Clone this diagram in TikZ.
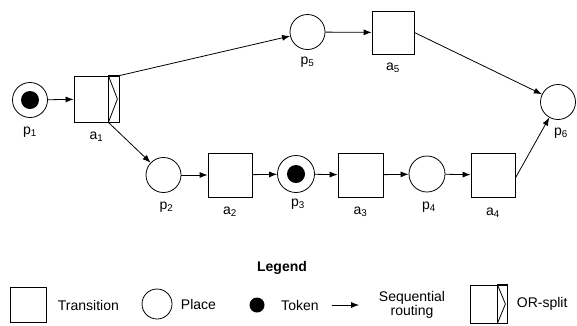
\documentclass[tikz,border=0pt]{standalone}
\usepackage{fontspec}
\setmainfont{Liberation Sans}
\usepackage{tikz}
\usetikzlibrary{arrows.meta,positioning,calc}

\begin{document}
\begin{tikzpicture}[
    x=1pt, y=-1pt,
    font=\fontsize{14}{16}\selectfont,
    trans/.style={rectangle, draw, line width=0.8pt, minimum width=44pt, minimum height=44pt, inner sep=0pt},
    place/.style={circle, draw, line width=0.8pt, minimum size=35pt, inner sep=0pt},
    marked/.style={place, path picture={\fill (path picture bounding box.center) circle (9pt);}},
    token/.style={circle, fill=black, minimum size=15pt, inner sep=0pt},
    lbl/.style={inner sep=0pt},
    arrow/.style={-{Latex[length=8pt,width=6pt]}, line width=0.8pt}
]
    \useasboundingbox (0,0) rectangle (577,325);

    % net
    \node[marked] (p1) at (30,100) {};
    \node[trans, minimum width=45pt, minimum height=46pt] (a1) at (96.5,99) {};
    \node[place] (p5) at (307.5,32) {};
    \node[trans, minimum width=42pt, minimum height=43pt] (a5) at (393,32.5) {};
    \node[place] (p6) at (558,102) {};
    \node[place] (p2) at (163.5,175) {};
    \node[trans] (a2) at (230,175) {};
    \node[marked, minimum size=37pt] (p3) at (296,174) {};
    \node[trans, minimum width=45pt] (a3) at (360.5,175) {};
    \node[place, minimum size=36pt] (p4) at (427,174) {};
    \node[trans] (a4) at (493,175) {};

    % OR-split bar of a1
    \coordinate (a1 bar) at ([xshift=-11pt]a1.south east);
    \draw[line width=1.6pt] ([xshift=-11pt]a1.north east) rectangle (a1.south east);
    \draw[line width=0.8pt] ([xshift=-11pt]a1.north east) -- ([xshift=-2pt]a1.east) -- (a1 bar);

    % labels
    \node[lbl, below=9pt of p1] (p1 lab) {p\textsubscript{1}};
    \node[lbl, below=9pt of a1] (a1 lab) {a\textsubscript{1}};
    \node[lbl, below=7pt of p5] (p5 lab) {p\textsubscript{5}};
    \node[lbl, below=8pt of a5] (a5 lab) {a\textsubscript{5}};
    \node[lbl, below=8pt of p6, xshift=3pt] (p6 lab) {p\textsubscript{6}};
    \node[lbl, below=9pt of p2, xshift=3pt] (p2 lab) {p\textsubscript{2}};
    \node[lbl, below=9pt of a2] (a2 lab) {a\textsubscript{2}};
    \node[lbl, below=6pt of p3, xshift=2pt] (p3 lab) {p\textsubscript{3}};
    \node[lbl, below=9pt of a3] (a3 lab) {a\textsubscript{3}};
    \node[lbl, below=9pt of p4, xshift=2pt] (p4 lab) {p\textsubscript{4}};
    \node[lbl, below=10pt of a4] (a4 lab) {a\textsubscript{4}};

    % arcs
    \draw[arrow] (p1) -- (a1);
    \draw[arrow] (a1.north east) -- (p5);
    \draw[arrow] (a1 bar) -- (p2);
    \draw[arrow] (p5) -- (a5);
    \draw[arrow] (a5.east) -- (p6);
    \draw[arrow] (p2) -- (a2);
    \draw[arrow] (a2) -- (p3);
    \draw[arrow] (p3) -- (a3);
    \draw[arrow] (a3) -- (p4);
    \draw[arrow] (p4) -- (a4);
    \draw[arrow] ([yshift=-3pt]a4.east) -- (p6);

    % legend
    \node[font=\fontsize{14}{16}\selectfont\bfseries] (legend) at (282,268) {Legend};
    \node[trans, minimum width=36pt, minimum height=35pt] (lg trans) at (28,305) {};
    \node[right=8pt of lg trans] (lg trans txt) {Transition};
    \node[place, minimum size=30pt] (lg place) at (157,304) {};
    \node[right=5pt of lg place] (lg place txt) {Place};
    \node[token] (lg token) at (257,305) {};
    \node[right=13pt of lg token] (lg token txt) {Token};
    \coordinate[right=10pt of lg token txt] (lg arr a);
    \coordinate[right=27pt of lg arr a] (lg arr b);
    \draw[arrow] (lg arr a) -- (lg arr b);
    \node[align=center, font=\fontsize{14}{13}\selectfont] (lg seq) at (412,305) {Sequential\\routing};
    \node[trans, minimum width=37pt, minimum height=38pt] (lg or) at (488.5,304) {};
    \draw[line width=1.6pt] ([xshift=-10pt]lg or.north east) rectangle (lg or.south east);
    \draw[line width=0.8pt] ([xshift=-10pt]lg or.north east) -- ([xshift=-2pt]lg or.east) -- ([xshift=-10pt]lg or.south east);
    \node[right=6pt of lg or] (lg or txt) {OR-split};
\end{tikzpicture}
\end{document}
